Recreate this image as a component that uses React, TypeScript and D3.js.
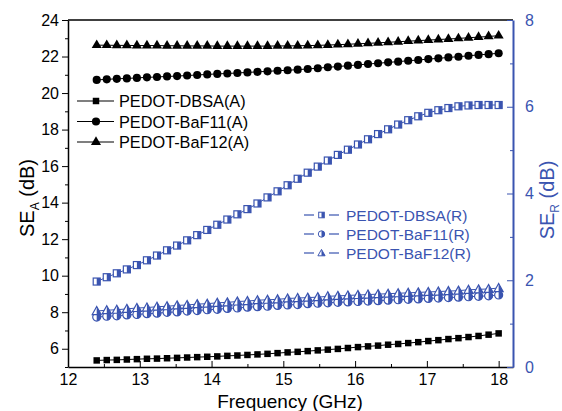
import React, { useEffect, useRef } from 'react';
import * as d3 from 'd3';

// frequency (GHz) of every measured point
const freq = [12.40, 12.54, 12.68, 12.82, 12.96, 13.10, 13.24, 13.38, 13.52, 13.66, 13.80,
  13.94, 14.08, 14.22, 14.36, 14.50, 14.64, 14.78, 14.92, 15.06, 15.20,
  15.34, 15.48, 15.62, 15.76, 15.90, 16.04, 16.18, 16.32, 16.46, 16.60,
  16.74, 16.88, 17.02, 17.16, 17.30, 17.44, 17.58, 17.72, 17.86, 18.00];

// SE_A (left axis)
const dbsaA = [5.36, 5.38, 5.39, 5.41, 5.43, 5.45, 5.46, 5.48, 5.50, 5.52, 5.54,
  5.56, 5.58, 5.61, 5.63, 5.66, 5.69, 5.72, 5.76, 5.80, 5.83,
  5.87, 5.91, 5.95, 5.99, 6.04, 6.09, 6.13, 6.17, 6.22, 6.26,
  6.31, 6.36, 6.42, 6.47, 6.53, 6.58, 6.64, 6.70, 6.77, 6.84];
const baf11A = [20.72, 20.75, 20.78, 20.80, 20.83, 20.86, 20.88, 20.91, 20.93, 20.96, 20.99,
  21.02, 21.05, 21.07, 21.10, 21.13, 21.16, 21.19, 21.22, 21.25, 21.28,
  21.32, 21.36, 21.41, 21.45, 21.50, 21.54, 21.59, 21.63, 21.68, 21.72,
  21.77, 21.81, 21.86, 21.90, 21.95, 21.99, 22.04, 22.09, 22.13, 22.18];
const baf12A = [22.62, 22.62, 22.61, 22.61, 22.60, 22.60, 22.60, 22.59, 22.59, 22.58, 22.58,
  22.58, 22.57, 22.57, 22.57, 22.57, 22.57, 22.57, 22.58, 22.58, 22.59,
  22.60, 22.61, 22.63, 22.65, 22.67, 22.70, 22.72, 22.75, 22.78, 22.81,
  22.84, 22.87, 22.90, 22.93, 22.96, 22.99, 23.03, 23.06, 23.10, 23.14];

// SE_R (right axis)
const dbsaR = [1.97, 2.07, 2.16, 2.25, 2.35, 2.46, 2.57, 2.69, 2.80, 2.92, 3.04,
  3.16, 3.28, 3.40, 3.52, 3.64, 3.77, 3.91, 4.05, 4.19, 4.34,
  4.48, 4.62, 4.76, 4.89, 5.01, 5.13, 5.25, 5.37, 5.48, 5.59,
  5.69, 5.78, 5.86, 5.92, 5.97, 6.01, 6.03, 6.04, 6.04, 6.04];
const baf11R = [1.15, 1.17, 1.18, 1.20, 1.21, 1.23, 1.24, 1.26, 1.27, 1.29, 1.30,
  1.32, 1.33, 1.35, 1.36, 1.38, 1.39, 1.40, 1.42, 1.43, 1.44,
  1.46, 1.47, 1.48, 1.49, 1.50, 1.51, 1.52, 1.53, 1.54, 1.55,
  1.56, 1.57, 1.58, 1.59, 1.60, 1.61, 1.62, 1.63, 1.64, 1.66];
const baf12R = [1.29, 1.31, 1.32, 1.34, 1.36, 1.37, 1.39, 1.40, 1.42, 1.43, 1.45,
  1.46, 1.48, 1.49, 1.51, 1.52, 1.54, 1.55, 1.56, 1.58, 1.59,
  1.60, 1.61, 1.63, 1.64, 1.65, 1.66, 1.67, 1.68, 1.69, 1.70,
  1.71, 1.72, 1.73, 1.74, 1.75, 1.76, 1.78, 1.79, 1.80, 1.82];

const xTicks = [12, 13, 14, 15, 16, 17, 18];
const leftTicks = [6, 8, 10, 12, 14, 16, 18, 20, 22, 24];
const rightTicks = [0, 2, 4, 6, 8];

const namesA = ['PEDOT-DBSA(A)', 'PEDOT-BaF11(A)', 'PEDOT-BaF12(A)'];
const namesR = ['PEDOT-DBSA(R)', 'PEDOT-BaF11(R)', 'PEDOT-BaF12(R)'];

const BLUE = '#3a54b0';
const FONT = '"Liberation Sans", Arial, sans-serif';

export default function App() {
  const ref = useRef<SVGSVGElement>(null);

  useEffect(() => {
    document.body.style.margin = '0';
    const svg = d3.select(ref.current);
    svg.selectAll('*').remove();

    const left = 68, right = 513, top = 20, bottom = 367;
    const x = d3.scaleLinear().domain([12, 18.2]).range([left, right]);
    const yA = d3.scaleLinear().domain([5, 24]).range([bottom, top]);
    const yR = d3.scaleLinear().domain([0, 8]).range([bottom, top]);

    const g = svg.append('g').style('font-family', FONT);

    // frame top line
    g.append('line').attr('x1', left).attr('x2', right).attr('y1', top).attr('y2', top)
      .attr('stroke', '#000').attr('stroke-width', 1.5);

    // x axis (ticks inward)
    const xa = g.append('g').attr('transform', `translate(0,${bottom})`)
      .call(d3.axisBottom(x).tickValues(xTicks).tickSizeInner(-6).tickSizeOuter(0).tickPadding(7).tickFormat(d3.format('d')));
    g.append('g').attr('transform', `translate(0,${bottom})`)
      .call(d3.axisBottom(x).tickValues(xTicks.slice(0, -1).map(d => d + 0.5)).tickSizeInner(-3).tickSizeOuter(0).tickFormat(() => ''))
      .select('.domain').remove();
    xa.selectAll('text').style('font-size', '16px').style('font-family', FONT).attr('fill', '#000');
    xa.select('.domain').attr('stroke-width', 1.5);

    // left axis (ticks outward)
    const ya = g.append('g').attr('transform', `translate(${left},0)`)
      .call(d3.axisLeft(yA).tickValues(leftTicks).tickSizeInner(6).tickSizeOuter(0).tickPadding(3));
    g.append('g').attr('transform', `translate(${left},0)`)
      .call(d3.axisLeft(yA).tickValues(leftTicks.map(d => d - 1)).tickSizeInner(3).tickSizeOuter(0).tickFormat(() => ''))
      .select('.domain').remove();
    ya.selectAll('text').style('font-size', '16px').style('font-family', FONT).attr('fill', '#000');
    ya.select('.domain').attr('stroke-width', 1.5);

    // right axis (blue, ticks inward)
    const ra = g.append('g').attr('transform', `translate(${right},0)`)
      .call(d3.axisRight(yR).tickValues(rightTicks).tickSizeInner(-6).tickSizeOuter(0).tickPadding(12));
    const rm = g.append('g').attr('transform', `translate(${right},0)`)
      .call(d3.axisRight(yR).tickValues([1, 3, 5, 7]).tickSizeInner(-3).tickSizeOuter(0).tickFormat(() => ''));
    rm.select('.domain').remove();
    rm.selectAll('line').attr('stroke', BLUE);
    ra.selectAll('line').attr('stroke', BLUE);
    ra.select('.domain').attr('stroke', BLUE).attr('stroke-width', 2);
    ra.selectAll('text').style('font-size', '16px').style('font-family', FONT).attr('fill', BLUE);

    // axis titles
    g.append('text').attr('x', 290).attr('y', 408).attr('text-anchor', 'middle')
      .style('font-size', '19px').text('Frequency (GHz)');
    const tl = g.append('text').attr('transform', 'translate(34,198) rotate(-90)').attr('text-anchor', 'middle')
      .style('font-size', '20px');
    tl.append('tspan').text('SE');
    tl.append('tspan').attr('dy', 5).style('font-size', '12px').text('A');
    tl.append('tspan').attr('dy', -5).text(' (dB)');
    const tr = g.append('text').attr('transform', 'translate(554,200) rotate(-90)').attr('text-anchor', 'middle')
      .style('font-size', '20px').attr('fill', BLUE);
    tr.append('tspan').text('SE');
    tr.append('tspan').attr('dy', 5).style('font-size', '12px').text('R');
    tr.append('tspan').attr('dy', -5).text(' (dB)');

    // marker helpers
    const filledMarker = (sel: any, kind: number) => {
      const sym = [d3.symbolSquare, d3.symbolCircle, d3.symbolTriangle][kind];
      const size = [42, 52, 44][kind];
      sel.append('path').attr('d', d3.symbol(sym, size)()).attr('fill', '#000');
    };
    const halfMarker = (sel: any, kind: number) => {
      const c = BLUE;
      if (kind === 0) {
        sel.append('rect').attr('x', -3.5).attr('y', -3.5).attr('width', 7).attr('height', 7)
          .attr('fill', '#fff').attr('stroke', c).attr('stroke-width', 1.2);
        sel.append('rect').attr('x', 0).attr('y', -3.5).attr('width', 3.5).attr('height', 7).attr('fill', c);
      } else if (kind === 1) {
        sel.append('circle').attr('r', 4).attr('fill', '#fff').attr('stroke', c).attr('stroke-width', 1.2);
        sel.append('path').attr('d', d3.arc()({ innerRadius: 0, outerRadius: 4, startAngle: 0, endAngle: Math.PI } as any)).attr('fill', c);
      } else {
        sel.append('path').attr('d', 'M0,-4.5L4.5,3.5L-4.5,3.5Z').attr('fill', '#fff').attr('stroke', c).attr('stroke-width', 1.2);
        sel.append('path').attr('d', 'M0,-4.5L4.5,3.5L0,3.5Z').attr('fill', c);
      }
    };

    const seriesA = [dbsaA, baf11A, baf12A];
    const seriesR = [dbsaR, baf11R, baf12R];

    seriesA.forEach((vals, k) => {
      const pts: [number, number][] = freq.map((f, i) => [x(f), yA(vals[i])]);
      g.append('path').attr('d', d3.line()(pts)).attr('fill', 'none').attr('stroke', '#000').attr('stroke-width', 1);
      pts.forEach(p => filledMarker(g.append('g').attr('transform', `translate(${p[0]},${p[1]})`), k));
    });
    seriesR.forEach((vals, k) => {
      const pts: [number, number][] = freq.map((f, i) => [x(f), yR(vals[i])]);
      g.append('path').attr('d', d3.line()(pts)).attr('fill', 'none').attr('stroke', BLUE).attr('stroke-width', 1);
      pts.forEach(p => halfMarker(g.append('g').attr('transform', `translate(${p[0]},${p[1]})`), k));
    });

    // legend A
    namesA.forEach((n, k) => {
      const ly = 101 + k * 20.5;
      g.append('line').attr('x1', 77).attr('x2', 114).attr('y1', ly).attr('y2', ly).attr('stroke', '#000').attr('stroke-width', 1.2);
      filledMarker(g.append('g').attr('transform', `translate(96,${ly})`), k);
      g.append('text').attr('x', 119).attr('y', ly + 6).style('font-size', '16.3px').text(n);
    });
    // legend R
    namesR.forEach((n, k) => {
      const ly = 215 + k * 19;
      g.append('line').attr('x1', 304).attr('x2', 314).attr('y1', ly).attr('y2', ly).attr('stroke', BLUE).attr('stroke-width', 1.2);
      g.append('line').attr('x1', 329).attr('x2', 339).attr('y1', ly).attr('y2', ly).attr('stroke', BLUE).attr('stroke-width', 1.2);
      halfMarker(g.append('g').attr('transform', `translate(321.5,${ly}) scale(0.8)`), k);
      g.append('text').attr('x', 346).attr('y', ly + 5.5).attr('fill', BLUE).style('font-size', '15.5px').text(n);
    });
  }, []);

  return (
    <svg ref={ref} width={562} height={411} style={{ display: 'block', background: '#fff' }} />
  );
}
